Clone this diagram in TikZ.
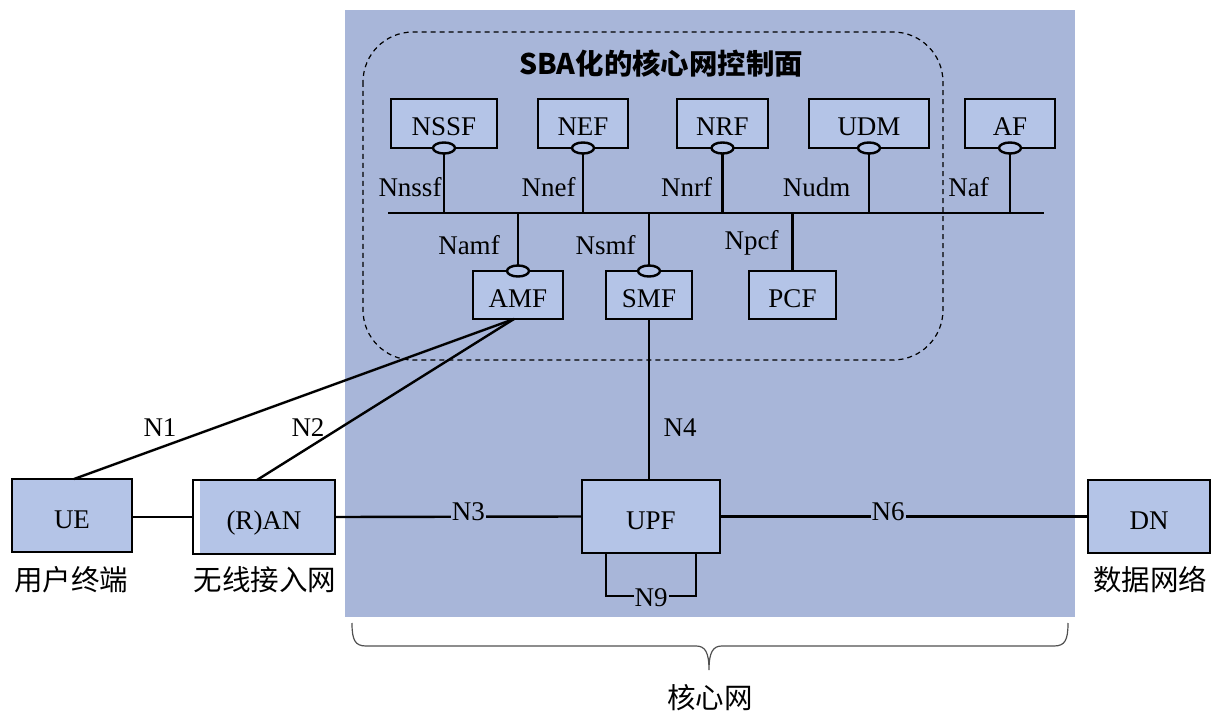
\documentclass[tikz,border=0pt]{standalone}
\usepackage{fontspec}
\setmainfont{Liberation Serif}
\newfontfamily\cjk{Noto Sans CJK SC}
\usetikzlibrary{shapes.geometric}
\definecolor{bgblue}{RGB}{168,182,217}
\definecolor{boxblue}{RGB}{180,196,231}
\definecolor{bracegray}{RGB}{80,80,80}
\begin{document}
\begin{tikzpicture}[x=1pt,y=-1pt,
  every node/.style={font=\fontsize{27}{32}\selectfont},
  nf/.style={draw, line width=2.6pt, fill=boxblue, inner sep=0pt, outer sep=0pt, text height=25pt, text depth=0pt},
  oval/.style={draw, ellipse, line width=2.4pt, fill=boxblue, minimum width=22pt, minimum height=11pt, inner sep=0pt, outer sep=0pt},
  conn/.style={line width=2.4pt},
  lbl/.style={inner sep=0pt},
  onlbl/.style={fill=bgblue, inner xsep=1pt, inner ysep=0pt},
  cjklbl/.style={font=\cjk\fontsize{28.5}{32}\selectfont, inner sep=0pt},
  ranfill/.style={fill=white, path picture={\fill[boxblue] ([xshift=7pt]path picture bounding box.south west) rectangle (path picture bounding box.north east);}},
  bracestyle/.style={draw=bracegray, line width=1.2pt},
]
\useasboundingbox (0,0) rectangle (1219,714);

% core network background
\fill[bgblue] (345,10) rectangle (1075,617);
% SBA control plane frame
\draw[dash pattern=on 5pt off 4pt, line width=1.2pt, rounded corners=50pt] (363,32) rectangle (943,360);
\node[inner sep=0pt, font=\cjk\bfseries\fontsize{28.4}{32}\selectfont] (title) at (661,64) {SBA化的核心网控制面};

% top NFs
\node[nf, minimum width=106pt, minimum height=49pt] (nssf) at (444,123.5) {NSSF};
\node[nf, minimum width=90pt, minimum height=49pt] (nef) at (583,123.5) {NEF};
\node[nf, minimum width=91pt, minimum height=49pt] (nrf) at (722.5,123.5) {NRF};
\node[nf, minimum width=120pt, minimum height=49pt] (udm) at (869,123.5) {UDM};
\node[nf, minimum width=90pt, minimum height=49pt] (af) at (1010,123.5) {AF};

% lower NFs
\node[nf, minimum width=90pt, minimum height=48pt] (amf) at (518,295) {AMF};
\node[nf, minimum width=86pt, minimum height=48pt] (smf) at (649,295) {SMF};
\node[nf, minimum width=87pt, minimum height=48pt] (pcf) at (792.5,295) {PCF};

% service bus
\coordinate (busL) at (388,213);
\coordinate (busR) at (1044,213);
\draw[conn] (busL) -- (busR);

% service interface ovals
\node[oval] (onssf) at (nssf.south) {};
\node[oval] (onef) at (nef.south) {};
\node[oval] (onrf) at (nrf.south) {};
\node[oval] (oudm) at (udm.south) {};
\node[oval] (oaf) at (af.south) {};
\node[oval] (oamf) at (amf.north) {};
\node[oval] (osmf) at (smf.north) {};

\draw[conn] (onssf.south) -- (onssf.south |- busL);
\draw[conn] (onef.south) -- (onef.south |- busL);
\draw[conn] (onrf.south) -- (onrf.south |- busL);
\draw[conn] (oudm.south) -- (oudm.south |- busL);
\draw[conn] (oaf.south) -- (oaf.south |- busL);
\draw[conn] (oamf.north) -- (oamf.north |- busL);
\draw[conn] (osmf.north) -- (osmf.north |- busL);
\draw[conn] (pcf.north) -- (pcf.north |- busL);

% interface labels
\node[lbl, anchor=base] (lnssf) at (410,197) {Nnssf};
\node[lbl, anchor=base] (lnef) at (548.5,197) {Nnef};
\node[lbl, anchor=base] (lnrf) at (686.5,197) {Nnrf};
\node[lbl, anchor=base] (ludm) at (816.5,197) {Nudm};
\node[lbl, anchor=base] (laf) at (968.5,197) {Naf};
\node[lbl, anchor=base] (lamf) at (469,255) {Namf};
\node[lbl, anchor=base] (lsmf) at (605.5,255) {Nsmf};
\node[lbl, anchor=base] (lpcf) at (751.5,250) {Npcf};

% access and user plane
\node[nf, minimum width=120pt, minimum height=73pt] (ue) at (72,515.5) {UE};
\node[nf, ranfill, minimum width=142pt, minimum height=74pt] (ran) at (264,517) {(R)AN};
\node[nf, minimum width=138pt, minimum height=73pt] (upf) at (651,516.5) {UPF};
\node[nf, minimum width=122pt, minimum height=73pt] (dn) at (1149,516.5) {DN};

\node[cjklbl] (uel) at (71,580) {用户终端};
\node[cjklbl] (ranl) at (265,580) {无线接入网};
\node[cjklbl] (dnl) at (1150,580) {数据网络};

% N1 / N2 from AMF
\coordinate (amfb) at ([xshift=-4pt]amf.south);
\draw[conn] (amfb) -- ([xshift=2pt]ue.north);
\draw[conn] (amfb) -- ([xshift=-7pt]ran.north);
\node[lbl] (n1) at (160,428) {N1};
\node[lbl] (n2) at (308,428) {N2};

% N4
\draw[conn] (smf.south) -- (smf.south |- upf.north);
\node[lbl] (n4) at (680,428) {N4};

% UE - RAN
\draw[conn] (ran.west -| ue.east) -- (ran.west);
% N3
\draw[conn] (ran.east) -- node[onlbl, pos=0.54, yshift=5pt] (n3) {N3} (upf.west);
% N6
\draw[conn] (upf.east) -- node[onlbl, pos=0.457, yshift=5pt] (n6) {N6} (dn.west);
% N9 loop
\coordinate (n9l) at ([xshift=-45pt]upf.south);
\coordinate (n9r) at ([xshift=45pt]upf.south);
\draw[conn] (n9l) -- ++(0,43) coordinate (n9bl) -- node[onlbl, yshift=-2pt] (n9) {N9} (n9bl -| n9r) -- (n9r);

% brace for core network
\draw[bracestyle] (352,623) .. controls (352,640) and (355,646) .. (366,646) -- (696,646)
  .. controls (705,646) and (709,652) .. (709,670)
  .. controls (709,652) and (713,646) .. (722,646) -- (1054,646)
  .. controls (1065,646) and (1068,640) .. (1068,623);
\node[cjklbl] (corel) at (710,698) {核心网};
\end{tikzpicture}
\end{document}
